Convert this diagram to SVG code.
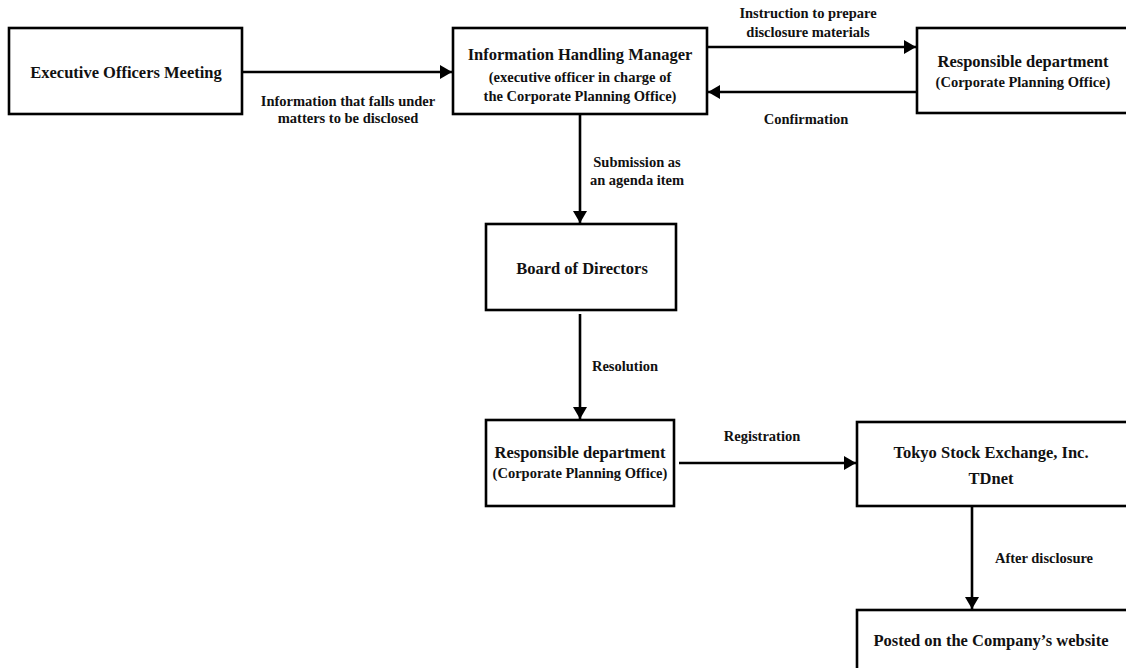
<svg xmlns="http://www.w3.org/2000/svg" width="1126" height="668" viewBox="0 0 1126 668">
<style>
.box{fill:#fff;stroke:#000;stroke-width:2.6}
.t{font-family:"Liberation Serif","Times New Roman",serif;font-weight:bold;fill:#111;text-anchor:middle}
.ti{font-size:16.5px}
.sub{font-size:14.5px}
.lb{font-size:14.5px}
.c{stroke:#000;stroke-width:2.6;fill:none;marker-end:url(#ah)}
</style>
<defs>
<marker id="ah" markerUnits="userSpaceOnUse" markerWidth="13" markerHeight="14" refX="12" refY="7" orient="auto">
<path d="M0,0 L12,7 L0,14 z" fill="#000"/>
</marker>
</defs>
<rect width="1126" height="668" fill="#fff"/>
<g id="connectors">
<line class="c" x1="242" y1="72" x2="452" y2="72"/>
<line class="c" x1="707" y1="47" x2="916" y2="47"/>
<line class="c" x1="916" y1="92" x2="708" y2="92"/>
<line class="c" x1="580" y1="114" x2="580" y2="223"/>
<line class="c" x1="580" y1="314" x2="580" y2="419"/>
<line class="c" x1="679" y1="463" x2="856" y2="463"/>
<line class="c" x1="972" y1="506" x2="972" y2="609"/>
<text class="t lb" x="348" y="106">Information that falls under</text>
<text class="t lb" x="348" y="123">matters to be disclosed</text>
<text class="t lb" x="808" y="18">Instruction to prepare</text>
<text class="t lb" x="808" y="37">disclosure materials</text>
<text class="t lb" x="806" y="124">Confirmation</text>
<text class="t lb" x="637" y="167">Submission as</text>
<text class="t lb" x="637" y="185">an agenda item</text>
<text class="t lb" x="625" y="371">Resolution</text>
<text class="t lb" x="762" y="441">Registration</text>
<text class="t lb" x="1044" y="563">After disclosure</text>
</g>
<g id="executive-officers-meeting">
<rect class="box" x="9" y="28" width="233" height="86"/>
<text class="t ti" x="126" y="78">Executive Officers Meeting</text>
</g>
<g id="information-handling-manager">
<rect class="box" x="453" y="28" width="254" height="86"/>
<text class="t ti" x="580" y="60">Information Handling Manager</text>
<text class="t sub" x="580" y="82">(executive officer in charge of</text>
<text class="t sub" x="580" y="101">the Corporate Planning Office)</text>
</g>
<g id="responsible-department-top">
<rect class="box" x="917" y="28" width="215" height="85"/>
<text class="t ti" x="1023" y="67">Responsible department</text>
<text class="t sub" x="1023" y="87">(Corporate Planning Office)</text>
</g>
<g id="board-of-directors">
<rect class="box" x="486" y="224" width="190" height="86"/>
<text class="t ti" x="582" y="274">Board of Directors</text>
</g>
<g id="responsible-department-bottom">
<rect class="box" x="486" y="420" width="188" height="86"/>
<text class="t ti" x="580" y="458">Responsible department</text>
<text class="t sub" x="580" y="478">(Corporate Planning Office)</text>
</g>
<g id="tokyo-stock-exchange">
<rect class="box" x="857" y="422" width="275" height="84"/>
<text class="t ti" x="991" y="458">Tokyo Stock Exchange, Inc.</text>
<text class="t ti" x="991" y="484">TDnet</text>
</g>
<g id="company-website">
<rect class="box" x="857" y="610" width="275" height="70"/>
<text class="t ti" x="991" y="646">Posted on the Company’s website</text>
</g>
</svg>
